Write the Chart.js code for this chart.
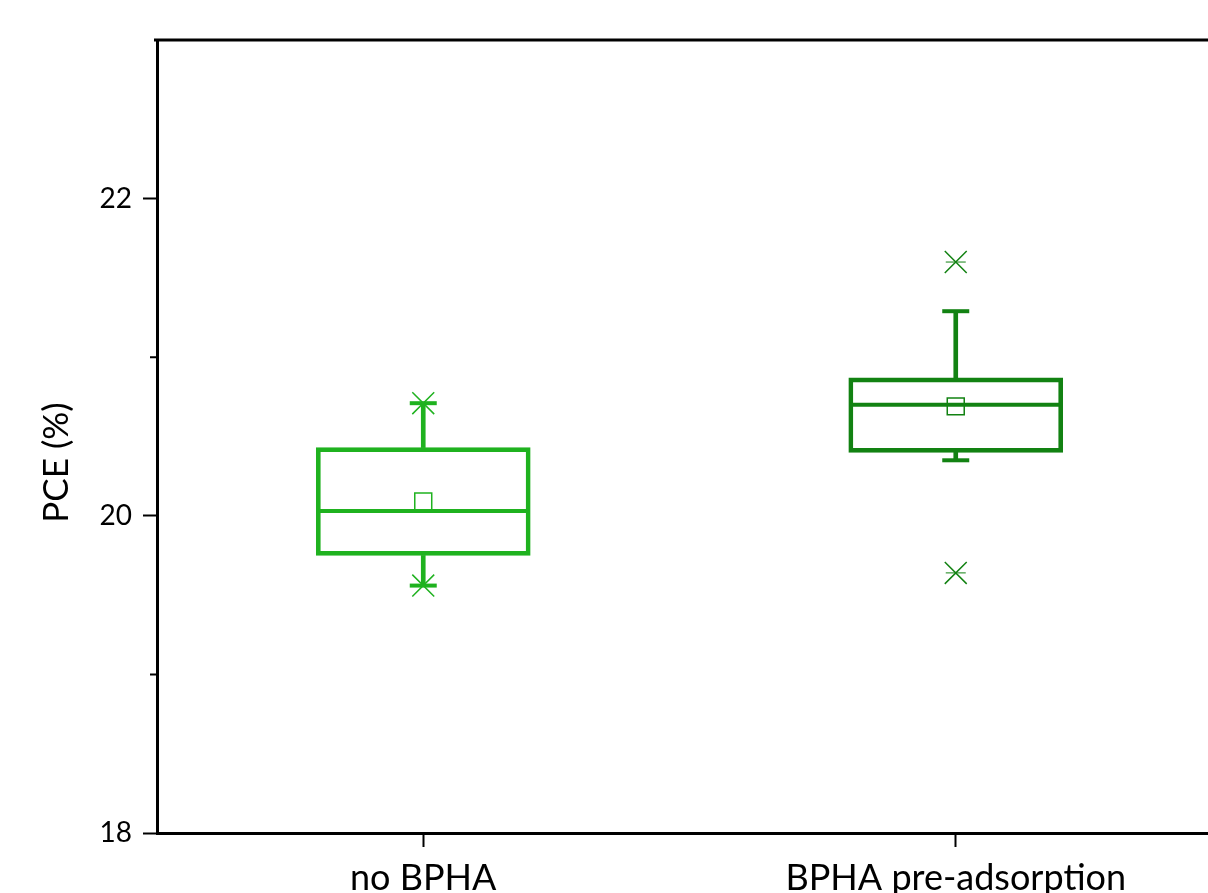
<!DOCTYPE html>
<html>
<head>
<meta charset="utf-8">
<script src="https://cdn.jsdelivr.net/npm/chart.js@4"></script>
<style>
  html, body { margin: 0; padding: 0; background: #fff; overflow: hidden; }
  #wrap { width: 1240px; height: 930px; }
</style>
</head>
<body>
<div id="wrap"><canvas id="chart"></canvas></div>
<script>
const categories = ["no BPHA", "BPHA pre-adsorption"];
const boxLow = [19.75, 20.40];      // 25th percentile
const boxHigh = [20.43, 20.87];     // 75th percentile
const medians = [20.03, 20.70];
const means = [20.09, 20.69];
const whiskerLow = [19.56, 20.35];
const whiskerHigh = [20.71, 21.29];
const minima = [19.56, 19.64];
const maxima = [20.71, 21.60];
const yTicks = [18, 20, 22];
const yMinorTicks = [19, 21];
const colors = ["#1fb21f", "#128212"];

const FONT = "Lato";

// line controller for marker-only series; big markers (the median bar)
// must not push the chart area inwards
class MarkerController extends Chart.LineController {
  getMaxOverflow() {
    return 0;
  }
}
MarkerController.id = "marker";
MarkerController.defaults = Object.assign({}, Chart.LineController.defaults, { showLine: false });
Chart.register(MarkerController);

const marker = (data, style, radius, width) => ({
  type: "marker",
  data: data,
  showLine: false,
  clip: false,
  pointStyle: style,
  pointRadius: radius,
  pointBorderWidth: width,
  pointBorderColor: colors,
  pointBackgroundColor: "rgba(0,0,0,0)",
});

// top frame line, minor ticks and the rotated y title
const framePlugin = {
  id: "frame",
  afterDraw(chart) {
    const { ctx, chartArea: a, scales } = chart;
    ctx.save();
    ctx.strokeStyle = "#000";
    ctx.lineWidth = 3;
    ctx.beginPath();
    ctx.moveTo(a.left - 3, a.top);
    ctx.lineTo(a.right, a.top);
    ctx.stroke();

    ctx.lineWidth = 2;
    ctx.beginPath();
    yMinorTicks.forEach((v) => {
      const py = scales.y.getPixelForValue(v);
      ctx.moveTo(a.left - 7, py);
      ctx.lineTo(a.left, py);
    });
    ctx.stroke();

    ctx.translate(57, (a.top + a.bottom) / 2 + 26);
    ctx.rotate(-Math.PI / 2);
    ctx.fillStyle = "#000";
    ctx.font = "35px " + FONT;
    ctx.textAlign = "center";
    ctx.textBaseline = "middle";
    ctx.fillText("PCE (%)", 0, 0);
    ctx.restore();
  },
};

new Chart(document.getElementById("chart"), {
  type: "bar",
  data: {
    labels: categories,
    datasets: [
      marker(medians, "line", 105, 4),
      marker(means, "rect", 12, 1.5),
      marker(maxima, "crossRot", 15.5, 1.5),
      marker(minima, "crossRot", 15.5, 1.5),
      marker(maxima, "line", 10, 1),
      marker(minima, "line", 10, 1),
      marker(whiskerHigh, "line", 13.5, 4),
      marker(whiskerLow, "line", 13.5, 4),
      {
        data: categories.map((_, i) => [boxLow[i], boxHigh[i]]),
        backgroundColor: "rgba(0,0,0,0)",
        borderColor: colors,
        borderWidth: 4,
        borderSkipped: false,
        barThickness: 214,
        grouped: false,
      },
      {
        data: categories.map((_, i) => [boxHigh[i], whiskerHigh[i]]),
        backgroundColor: colors,
        borderWidth: 0,
        barThickness: 4,
        grouped: false,
      },
      {
        data: categories.map((_, i) => [whiskerLow[i], boxLow[i]]),
        backgroundColor: colors,
        borderWidth: 0,
        barThickness: 4,
        grouped: false,
      },
    ],
  },
  options: {
    responsive: true,
    maintainAspectRatio: false,
    animation: false,
    events: [],
    layout: { padding: { left: 0, top: 40, right: 18, bottom: 0 } },
    plugins: {
      legend: { display: false },
      tooltip: { enabled: false },
    },
    scales: {
      x: {
        type: "category",
        offset: true,
        afterFit: (s) => { s.height = 97; },
        grid: {
          offset: false,
          drawOnChartArea: false,
          tickLength: 14,
          tickWidth: 2,
          tickColor: "#000",
        },
        border: { color: "#000", width: 3 },
        ticks: {
          color: "#000",
          font: { family: FONT, size: 36 },
          padding: 10,
          maxRotation: 0,
        },
      },
      y: {
        type: "linear",
        min: 18,
        max: 23,
        afterBuildTicks: (s) => { s.ticks = yTicks.map((v) => ({ value: v })); },
        afterFit: (s) => { s.width = 157; },
        grid: {
          drawOnChartArea: false,
          tickLength: 14,
          tickWidth: 2,
          tickColor: "#000",
        },
        border: { color: "#000", width: 3 },
        ticks: {
          color: "#000",
          font: { family: FONT, size: 28 },
          padding: 11,
        },
      },
    },
  },
  plugins: [framePlugin],
});
</script>
</body>
</html>
